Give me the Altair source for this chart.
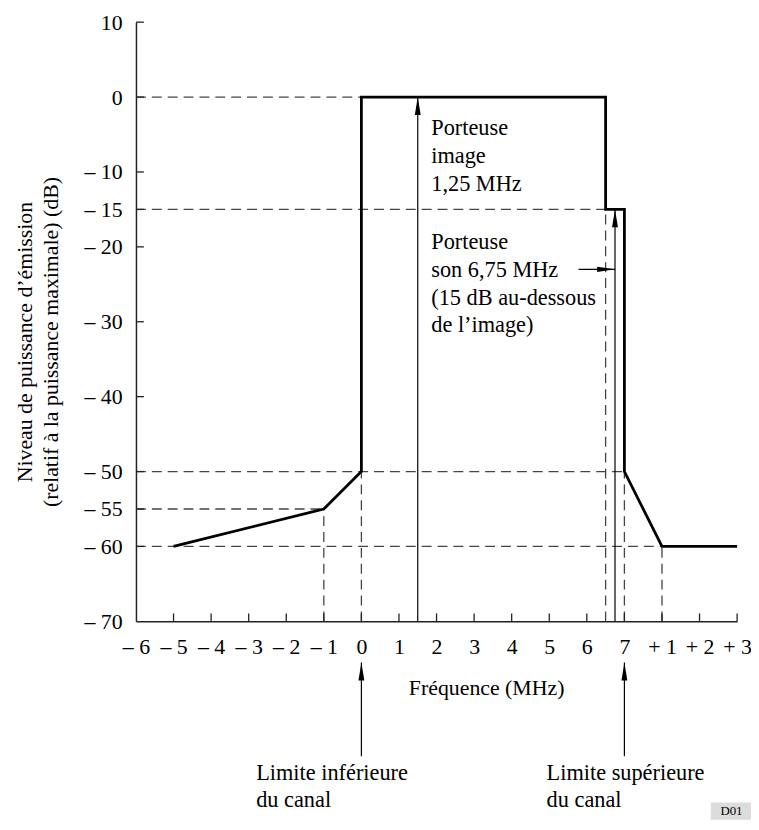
import json
import altair as alt
import pandas as pd

FONT = "Liberation Serif"

# ---- data ----
envelope_x = [-5, -1, 0, 0, 6.5, 6.5, 7, 7, 8, 10]
envelope_y = [-60, -55, -50, 0, 0, -15, -15, -50, -60, -60]

h_ref_y = [0, -15, -50, -55, -60]
h_ref_x_end = [0, 6.5, 7, -1, 8]
v_ref_x = [-1, 0, 6.5, 7, 8]
v_ref_y_top = [-55, -50, -15, -50, -60]

carrier_x = [1.5, 6.75]
carrier_top = [0, -15]

channel_x = [0, 7]
channel_tail = [-88, -88]
channel_tip = [-75.5, -75.5]

son_arrow_x = [5.78]
son_arrow_tip = [6.75]
son_arrow_y = [-23]

x_tick_values = list(range(-6, 11))
x_tick_labels = ["– 6", "– 5", "– 4", "– 3", "– 2", "– 1", "0", "1", "2", "3",
                 "4", "5", "6", "7", "+ 1", "+ 2", "+ 3"]
y_tick_values = [10, 0, -10, -15, -20, -30, -40, -50, -55, -60, -70]
y_tick_labels = ["10", "0", "– 10", "– 15", "– 20", "– 30", "– 40", "– 50",
                 "– 55", "– 60", "– 70"]

note_text = ["Porteuse", "image", "1,25 MHz",
             "Porteuse", "son 6,75 MHz", "(15 dB au-dessous", "de l’image)",
             "Limite inférieure", "du canal", "Limite supérieure", "du canal"]
note_x = [1.86, 1.86, 1.86, 1.86, 1.86, 1.86, 1.86, -2.8, -2.8, 4.93, 4.93]
note_y = [-4.2, -7.9, -11.6, -19.4, -23.1, -26.8, -30.5, -90.3, -93.8, -90.3, -93.8]

tag_text = ["D01"]
tag_x = [9.3]
tag_x2 = [10.4]
tag_y = [-94.2]
tag_y2 = [-96.5]

# ---- tables ----
env_df = pd.DataFrame({"x": envelope_x, "y": envelope_y, "o": range(len(envelope_x))})
href_df = pd.DataFrame({"x": [-6] * len(h_ref_y), "x2": h_ref_x_end, "y": h_ref_y})
vref_df = pd.DataFrame({"x": v_ref_x, "y": [-70] * len(v_ref_x), "y2": v_ref_y_top})
carrier_df = pd.DataFrame({"x": carrier_x, "y": [-70] * len(carrier_x), "y2": carrier_top})
channel_df = pd.DataFrame({"x": channel_x, "y": channel_tail, "y2": channel_tip})
son_df = pd.DataFrame({"x": son_arrow_x, "x2": son_arrow_tip, "y": son_arrow_y})
up_heads = pd.DataFrame({"x": carrier_x + channel_x, "y": carrier_top + channel_tip})
right_heads = pd.DataFrame({"x": son_arrow_tip, "y": son_arrow_y})
notes_df = pd.DataFrame({"x": note_x, "y": note_y, "t": note_text})
tag_df = pd.DataFrame({"x": tag_x, "x2": tag_x2, "y": tag_y, "y2": tag_y2,
                       "xc": [(a + b) / 2 for a, b in zip(tag_x, tag_x2)],
                       "yc": [(a + b) / 2 for a, b in zip(tag_y, tag_y2)], "t": tag_text})
xticks_df = pd.DataFrame({"x": x_tick_values[1:], "y": [-70] * (len(x_tick_values) - 1)})
yticks_df = pd.DataFrame({"x": [-6] * (len(y_tick_values) - 1), "y": y_tick_values[:-1]})

xscale = alt.Scale(domain=[-6, 10], nice=False, zero=False)
yscale = alt.Scale(domain=[-70, 10], nice=False, zero=False)

x_label_expr = f"{json.dumps(x_tick_labels, ensure_ascii=False)}[indexof({json.dumps(x_tick_values)}, datum.value)]"
y_label_expr = f"{json.dumps(y_tick_labels, ensure_ascii=False)}[indexof({json.dumps(y_tick_values)}, datum.value)]"

common_axis = dict(grid=False, ticks=False, tickSize=0, labelFont=FONT, labelFontSize=22,
                   labelColor="black", labelOverlap=False, labelFlush=False,
                   domainColor="#222", domainWidth=1.5, titleFont=FONT, titleFontSize=22,
                   titleFontWeight="normal", titleColor="black")

x_axis = alt.Axis(values=x_tick_values, labelExpr=x_label_expr, labelPadding=15,
                  title="Fréquence (MHz)", titleX=353, titleY=67, titleAlign="center",
                  titleBaseline="middle", **common_axis)
y_axis = alt.Axis(values=y_tick_values, labelExpr=y_label_expr, labelPadding=14,
                  title=["Niveau de puissance d’émission", "(relatif à la puissance maximale) (dB)"],
                  titleAngle=270, titleX=-112, titleY=322, titleAlign="center",
                  titleBaseline="middle", titleLineHeight=26, **common_axis)

# every layer carries the same axis definition so the shared axes merge cleanly
X = lambda f="x": alt.X(f"{f}:Q", scale=xscale, axis=x_axis)
Y = lambda f="y": alt.Y(f"{f}:Q", scale=yscale, axis=y_axis)

dash = [10, 6]
dash_color = "#444"

h_ref = alt.Chart(href_df).mark_rule(strokeDash=dash, color=dash_color, strokeWidth=1.3).encode(
    x=X(), x2="x2", y=Y())
v_ref = alt.Chart(vref_df).mark_rule(strokeDash=dash, color=dash_color, strokeWidth=1.3).encode(
    x=X(), y=Y(), y2="y2")
x_ticks = alt.Chart(xticks_df).mark_tick(orient="vertical", size=8, thickness=1.3, color="#222",
                                         yOffset=-4, opacity=1).encode(x=X(), y=Y())
y_ticks = alt.Chart(yticks_df).mark_tick(orient="horizontal", size=8, thickness=1.3, color="#222",
                                         xOffset=4, opacity=1).encode(x=X(), y=Y())
envelope = alt.Chart(env_df).mark_line(color="black", strokeWidth=2.8).encode(
    x=X(), y=Y(), order="o:Q")
carriers = alt.Chart(carrier_df).mark_rule(color="black", strokeWidth=1.2).encode(
    x=X(), y=Y(), y2="y2")
channels = alt.Chart(channel_df).mark_rule(color="black", strokeWidth=1.2).encode(
    x=X(), y=Y(), y2="y2")
son_arrow = alt.Chart(son_df).mark_rule(color="black", strokeWidth=1.2).encode(
    x=X(), x2="x2", y=Y())
up_head = alt.Chart(up_heads).mark_point(shape="M0,0 L0.33,2 L-0.33,2 Z", size=324, filled=True,
                                         color="black", opacity=1, strokeWidth=0).encode(x=X(), y=Y())
right_head = alt.Chart(right_heads).mark_point(shape="M0,0 L-2,-0.3 L-2,0.3 Z", size=324, filled=True,
                                               color="black", opacity=1, strokeWidth=0).encode(x=X(), y=Y())
notes = alt.Chart(notes_df).mark_text(align="left", baseline="middle", font=FONT, fontSize=22.5,
                                      color="black").encode(x=X(), y=Y(), text="t:N")
tag_box = alt.Chart(tag_df).mark_rect(color="#dcdcdc").encode(x=X(), x2="x2", y=Y(), y2="y2")
tag_txt = alt.Chart(tag_df).mark_text(align="center", baseline="middle", font=FONT, fontSize=13,
                                      color="black").encode(x=X("xc"), y=Y("yc"), text="t:N")

chart = alt.layer(h_ref, v_ref, x_ticks, y_ticks, carriers, channels, son_arrow, envelope,
                  up_head, right_head, notes, tag_box, tag_txt).properties(
    width=606, height=604,
    padding={"left": 129, "top": 11, "right": 14, "bottom": 199},
    autosize=alt.AutoSizeParams(type="none"),
    background="white",
).configure_view(strokeWidth=0)

chart.save("out.html", embed_options={"renderer": "svg", "actions": False})
